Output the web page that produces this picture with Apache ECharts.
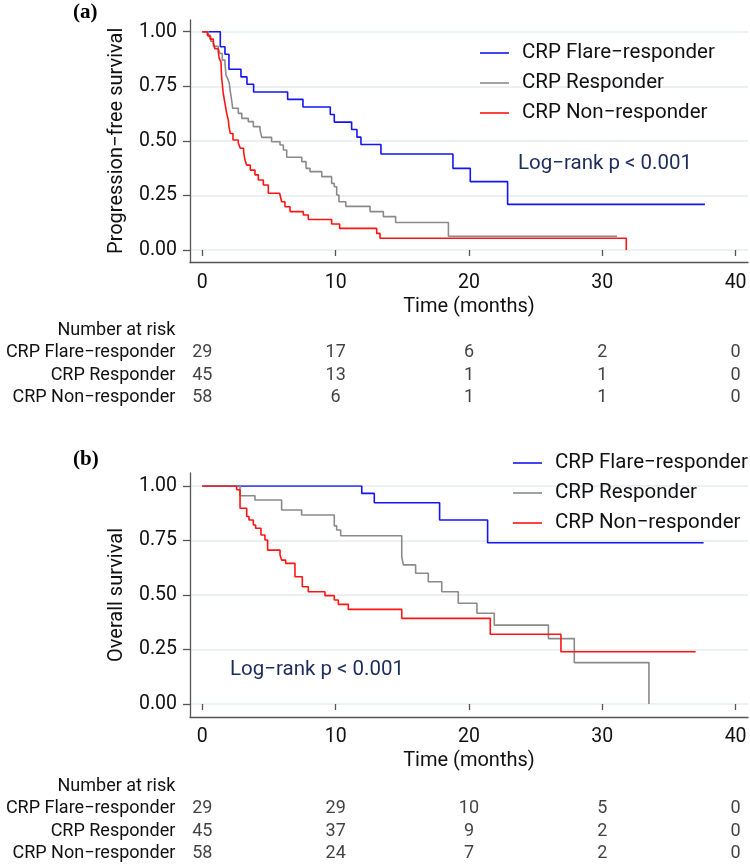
<!DOCTYPE html>
<html><head><meta charset="utf-8">
<script src="https://cdn.jsdelivr.net/npm/echarts@6/dist/echarts.min.js"></script>
<style>html,body{margin:0;padding:0;background:#fff}#c{width:750px;height:865px}</style>
</head><body><div id="c"></div>
<script>
// ---------- data ----------
const groups = ['CRP Flare−responder', 'CRP Responder', 'CRP Non−responder'];
const colors = ['#1414f5', '#8a8a8a', '#ff1414'];

// Panel (a): Progression-free survival
const pfsFlareT = [0, 1.35, 1.7, 2.0, 2.9, 3.35, 3.85, 6.4, 7.55, 9.6, 9.9, 11.2, 11.6, 11.9, 13.4, 18.8, 20.1, 22.9, 37.7];
const pfsFlareS = [1, 0.931, 0.897, 0.828, 0.793, 0.759, 0.724, 0.690, 0.655, 0.621, 0.586, 0.552, 0.517, 0.483, 0.44, 0.374, 0.313, 0.209, 0.209];
const pfsRespT = [0, 0.45, 0.63, 0.83, 1.2, 1.33, 1.5, 1.7, 1.78, 1.9, 2.03, 2.08, 2.2, 2.28, 2.7, 2.96, 3.45, 3.83, 4.33, 4.46, 5.2, 5.83, 6.08, 6.33, 7.46, 7.78, 8.08, 8.96, 9.7, 9.9, 10.08, 10.25, 10.76, 12.58, 13.58, 14.5, 18.46, 31.1];
const pfsRespS = [1, 0.978, 0.956, 0.933, 0.92, 0.90, 0.87, 0.855, 0.80, 0.786, 0.763, 0.733, 0.687, 0.649, 0.626, 0.603, 0.588, 0.565, 0.55, 0.516, 0.496, 0.481, 0.458, 0.425, 0.405, 0.374, 0.359, 0.336, 0.305, 0.29, 0.252, 0.221, 0.2, 0.176, 0.153, 0.126, 0.063, 0.063];
const pfsNonT = [0, 0.38, 0.58, 0.83, 0.95, 1.2, 1.27, 1.4, 1.45, 1.57, 1.7, 1.83, 1.95, 2.0, 2.1, 2.3, 2.7, 2.85, 3.1, 3.2, 3.33, 3.6, 3.95, 4.2, 4.58, 4.95, 5.8, 5.95, 6.2, 6.58, 7.58, 7.95, 9.7, 10.3, 13.08, 13.33, 31.8, 31.8];
const pfsNonS = [1, 0.983, 0.966, 0.948, 0.922, 0.907, 0.878, 0.862, 0.79, 0.718, 0.672, 0.626, 0.595, 0.565, 0.534, 0.504, 0.49, 0.466, 0.45, 0.412, 0.389, 0.366, 0.344, 0.321, 0.298, 0.26, 0.252, 0.221, 0.198, 0.176, 0.16, 0.14, 0.119, 0.099, 0.076, 0.054, 0.054, 0];

// Panel (b): Overall survival
const osFlareT = [0, 11.96, 12.9, 17.8, 21.4, 37.6];
const osFlareS = [1, 0.966, 0.923, 0.844, 0.74, 0.74];
const osRespT = [0, 2.83, 3.95, 5.95, 7.45, 9.9, 10.08, 10.38, 14.96, 15.08, 16.0, 16.95, 17.96, 19.2, 20.6, 21.9, 25.96, 27.9, 33.5, 33.5];
const osRespS = [1, 0.955, 0.936, 0.89, 0.867, 0.817, 0.798, 0.772, 0.676, 0.638, 0.6, 0.561, 0.515, 0.462, 0.416, 0.362, 0.30, 0.19, 0.19, 0];
const osNonT = [0, 2.58, 2.83, 3.33, 3.5, 3.83, 4.0, 4.4, 4.7, 4.9, 5.83, 5.95, 6.25, 6.95, 7.5, 7.95, 9.2, 9.9, 10.2, 10.95, 14.96, 21.6, 26.9, 37.0];
const osNonS = [1, 0.983, 0.898, 0.86, 0.844, 0.821, 0.806, 0.775, 0.752, 0.706, 0.683, 0.66, 0.645, 0.584, 0.538, 0.515, 0.497, 0.477, 0.457, 0.434, 0.393, 0.32, 0.24, 0.24];

// Number at risk
const atRiskTimes = [0, 10, 20, 30, 40];
const pfsRiskFlare = [29, 17, 6, 2, 0];
const pfsRiskResp = [45, 13, 1, 1, 0];
const pfsRiskNon = [58, 6, 1, 1, 0];
const osRiskFlare = [29, 29, 10, 5, 0];
const osRiskResp = [45, 37, 9, 2, 0];
const osRiskNon = [58, 24, 7, 2, 0];

const riskHeader = 'Number at risk';
const xTitle = 'Time (months)';
const yTitles = ['Progression−free survival', 'Overall survival'];
const panelTags = ['(a)', '(b)'];
const logRank = 'Log−rank p < 0.001';

// ---------- layout ----------
const FONT = 'Roboto';
const AX = '#555555';
const L = 190, R = 748, X0 = 202.3, XW = 533.3;
const panels = [
  { fTop: 20, fBot: 262.7, y1: 31.7, y0: 250, tTop: 319, legLeft: 480, legTop: 42, lr: [518, 153], tag: [73, 2],
    curves: [[pfsFlareT, pfsFlareS], [pfsRespT, pfsRespS], [pfsNonT, pfsNonS]],
    risk: [pfsRiskFlare, pfsRiskResp, pfsRiskNon] },
  { fTop: 473, fBot: 717, y1: 486, y0: 704, tTop: 775, legLeft: 513, legTop: 452, lr: [230, 659], tag: [73, 449],
    curves: [[osFlareT, osFlareS], [osRespT, osRespS], [osNonT, osNonS]],
    risk: [osRiskFlare, osRiskResp, osRiskNon] }
];

const grid = [], xAxis = [], yAxis = [], series = [], legend = [], graphic = [];
const hidden = { show: false };
panels.forEach((p, pi) => {
  const gD = grid.length;       // data grid
  grid.push({ left: X0, width: XW, top: p.y1, height: p.y0 - p.y1 });
  const gY = grid.length;       // y ticks / gridlines
  grid.push({ left: L, width: R - L, top: p.y1, height: p.y0 - p.y1 });
  const gF = grid.length;       // frame axis lines
  grid.push({ left: L, width: R - L, top: p.fTop, height: p.fBot - p.fTop });
  const gT = grid.length;       // risk table
  grid.push({ left: X0, width: XW, top: p.tTop, height: 90 });

  xAxis.push({ gridIndex: gD, type: 'value', min: 0, max: 40, interval: 10, position: 'bottom',
    offset: p.fBot - p.y0,
    axisLine: { show: false }, axisTick: { show: true, length: 6, lineStyle: { color: AX, width: 1.3 } },
    axisLabel: { margin: 10, fontFamily: FONT, fontSize: 19.5, color: '#111' },
    splitLine: { show: false },
    name: xTitle, nameLocation: 'middle', nameGap: 34,
    nameTextStyle: { fontFamily: FONT, fontSize: 20, color: '#111' } });
  yAxis.push({ gridIndex: gD, type: 'value', min: 0, max: 1, show: false });

  xAxis.push({ gridIndex: gY, type: 'value', min: 0, max: 1, show: false });
  yAxis.push({ gridIndex: gY, type: 'value', min: 0, max: 1, interval: 0.25,
    axisLine: { show: false }, axisTick: { show: true, length: 7, lineStyle: { color: AX, width: 1.3 } },
    axisLabel: { margin: 13, fontFamily: FONT, fontSize: 19.5, color: '#111', formatter: v => v.toFixed(2) },
    splitLine: { show: true, lineStyle: { color: '#e3ebef', width: 1.5 } },
    name: yTitles[pi], nameLocation: 'middle', nameGap: 63,
    nameTextStyle: { fontFamily: FONT, fontSize: 20, color: '#111' } });

  xAxis.push({ gridIndex: gF, type: 'value', min: 0, max: 1,
    axisLine: { show: true, lineStyle: { color: AX, width: 1.3 } }, axisTick: hidden, axisLabel: hidden, splitLine: hidden });
  yAxis.push({ gridIndex: gF, type: 'value', min: 0, max: 1,
    axisLine: { show: true, lineStyle: { color: AX, width: 1.3 } }, axisTick: hidden, axisLabel: hidden, splitLine: hidden });

  xAxis.push({ gridIndex: gT, type: 'value', min: 0, max: 40, show: false });
  yAxis.push({ gridIndex: gT, type: 'category', inverse: true, data: [riskHeader].concat(groups),
    axisLine: hidden, axisTick: hidden, splitLine: hidden,
    axisLabel: { interval: 0, margin: 27, fontFamily: FONT, fontSize: 18, color: '#111' } });

  p.curves.forEach((c, gi) => {
    series.push({ name: groups[gi], type: 'line', step: 'end', xAxisIndex: gD, yAxisIndex: gD,
      symbol: 'none', color: colors[gi], lineStyle: { color: colors[gi], width: 1.6 }, z: 3 + gi,
      silent: true, animation: false,
      data: c[0].map((t, i) => [t, c[1][i]]) });
  });
  const rd = [];
  p.risk.forEach((vals, gi) => vals.forEach((v, i) => rd.push([atRiskTimes[i], groups[gi], v])));
  series.push({ type: 'scatter', xAxisIndex: gT, yAxisIndex: gT, symbolSize: 1,
    itemStyle: { color: 'rgba(0,0,0,0)' }, silent: true, animation: false,
    label: { show: true, position: 'inside', formatter: q => String(q.value[2]),
      fontFamily: FONT, fontSize: 18, color: '#111' },
    data: rd });

  legend.push({ orient: 'vertical', left: p.legLeft, top: p.legTop, padding: 0,
    icon: 'rect', itemWidth: 29, itemHeight: 1.6, itemGap: 8, selectedMode: false,
    textStyle: { fontFamily: FONT, fontSize: 20.5, lineHeight: 22, color: '#111', padding: [0, 0, 0, 8] },
    data: groups });

  graphic.push({ type: 'text', left: p.lr[0], top: p.lr[1],
    style: { text: logRank, font: '20.5px ' + FONT, fill: '#1c2c5c' } });
  graphic.push({ type: 'text', left: p.tag[0], top: p.tag[1],
    style: { text: panelTags[pi], font: 'bold 21px "Liberation Serif"', fill: '#000' } });
});

const chart = echarts.init(document.getElementById('c'), null, { renderer: 'canvas' });
chart.setOption({ animation: false, backgroundColor: '#fff', grid, xAxis, yAxis, series, legend, graphic });
</script></body></html>
